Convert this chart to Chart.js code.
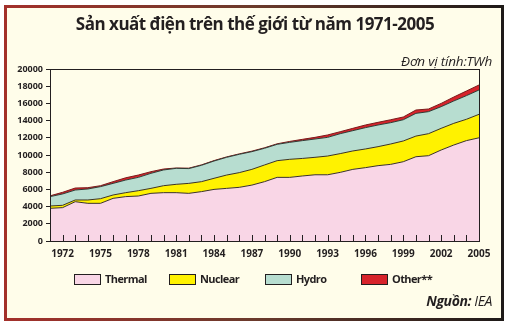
<!DOCTYPE html>
<html>
<head>
<meta charset="utf-8">
<script src="https://cdn.jsdelivr.net/npm/chart.js@4/dist/chart.umd.min.js"></script>
<style>
  html, body { margin: 0; padding: 0; background: #ffffff; }
  #wrap { position: relative; width: 506px; height: 326px; overflow: hidden; background: #ffffff; }
  #panel { position: absolute; left: 4px; top: 5px; width: 494px; height: 310px; background: #fffdea;
           border: 3px solid; border-image: linear-gradient(90deg, #a3302b, #6b3a2c 50%, #1e1a18) 1; }
  #c { position: absolute; left: 0; top: 0; }
  .t { position: absolute; white-space: nowrap; color: #231f20; font-family: "Open Sans", "Noto Sans", sans-serif; }
  #title { left: 0; width: 506px; text-align: center; top: 12px; font-size: 17px; font-weight: 700; letter-spacing: -0.5px; padding-left: 4px; box-sizing: border-box; }
  #unit { right: 14px; top: 52px; font-size: 13.5px; font-style: italic; letter-spacing: -0.2px; }
  #src { right: 14px; top: 291px; font-size: 14px; font-style: italic; letter-spacing: -0.4px; }
  .lg { position: absolute; top: 274px; height: 9px; width: 25px; border: 1px solid #231f20; }
  .lt { position: absolute; top: 271px; font-size: 11px; font-weight: 700; font-family: "Open Sans", "Noto Sans", sans-serif; color: #231f20; letter-spacing: -0.6px; }
</style>
</head>
<body>
<div id="wrap">
  <div id="panel"></div>
  <canvas id="c" width="506" height="326"></canvas>
  <div class="t" id="title">Sản xuất điện trên thế giới từ năm 1971-2005</div>
  <div class="t" id="unit">Đơn vị tính:TWh</div>
  <div class="t" id="src"><b>Nguồn:</b> IEA</div>
  <div id="legend"></div>
</div>
<script>
const years = [1971,1972,1973,1974,1975,1976,1977,1978,1979,1980,1981,1982,1983,1984,1985,1986,1987,1988,1989,1990,1991,1992,1993,1994,1995,1996,1997,1998,1999,2000,2001,2002,2003,2004,2005];
const thermal = [3800,3880,4570,4380,4380,4960,5160,5230,5540,5620,5620,5540,5740,6000,6120,6240,6500,6900,7400,7400,7560,7700,7700,7980,8330,8530,8760,8910,9220,9800,9920,10580,11160,11670,12000];
const nuclear = [270,270,200,390,540,390,460,620,580,810,970,1160,1160,1290,1550,1710,1830,1940,1940,2100,2040,2030,2180,2180,2140,2170,2210,2370,2410,2400,2560,2520,2520,2480,2730];
const hydro = [1090,1320,1160,1280,1400,1350,1470,1550,1750,1830,1860,1720,1900,2010,2060,2130,2060,1940,1900,1970,2070,2130,2170,2320,2360,2480,2520,2480,2470,2640,2560,2520,2600,2750,2830];
const other = [90,190,230,150,110,200,260,270,190,110,40,50,50,50,50,50,60,60,60,110,150,190,280,230,270,310,310,340,320,390,310,380,460,540,580];
const seriesNames = ["Thermal","Nuclear","Hydro","Other**"];
const yMax = 20000, yStep = 2000;
const labelEvery = 3, firstLabelYear = 1972;

const fills = ["#f9d6e6","#fff200","#b7ddd0","#d7232b"];
const lines = ["#3b3326","#3b3326","#2f3a33","#7a1c1c"];
const values = [thermal, nuclear, hydro, other];

// legend (HTML)
const legendX = [74,169,265,361];
const lg = document.getElementById('legend');
seriesNames.forEach((n,i)=>{
  const b = document.createElement('div'); b.className='lg';
  b.style.left = legendX[i]+'px'; b.style.background = fills[i]; lg.appendChild(b);
  const t = document.createElement('div'); t.className='lt';
  t.style.left = (legendX[i]+31)+'px'; t.textContent = n; lg.appendChild(t);
});

const framePlugin = {
  id: 'frame',
  afterDatasetsDraw(chart) {
    const {ctx, chartArea: a, scales: {x}} = chart;
    ctx.save();
    ctx.strokeStyle = '#231f20';
    ctx.lineWidth = 1;
    ctx.strokeRect(Math.round(a.left)+0.5, Math.round(a.top)+0.5, Math.round(a.right-a.left), Math.round(a.bottom-a.top));
    ctx.beginPath();
    for (let i = 1; i < years.length; i++) {
      const px = Math.round(x.getPixelForValue(i)) + 0.5;
      ctx.moveTo(px, a.bottom);
      ctx.lineTo(px, a.bottom - 6);
    }
    ctx.stroke();
    ctx.restore();
  }
};

new Chart(document.getElementById('c'), {
  type: 'line',
  data: {
    labels: years.map(String),
    datasets: seriesNames.map((n,i)=>({
      label: n,
      data: values[i],
      backgroundColor: fills[i],
      borderColor: lines[i],
      borderWidth: 1,
      fill: i === 0 ? 'origin' : '-1',
      pointRadius: 0,
      tension: 0
    }))
  },
  options: {
    responsive: false,
    animation: false,
    layout: { padding: { left: 0, right: 27, top: 69, bottom: 65 } },
    plugins: { legend: { display: false }, tooltip: { enabled: false }, title: { display: false } },
    scales: {
      x: {
        offset: false,
        grid: { display: false, drawTicks: false },
        border: { display: true, color: '#231f20' },
        ticks: {
          autoSkip: false, maxRotation: 0, padding: 7,
          color: '#231f20',
          font: { family: '"Open Sans", "Noto Sans", sans-serif', size: 10, weight: 'bold' },
          callback: function(v) { const y = +this.getLabelForValue(v); return ((y - firstLabelYear) % labelEvery === 0) ? String(y) : ''; }
        },
        afterFit(s) { s.height = 20; }
      },
      y: {
        stacked: true,
        min: 0, max: yMax,
        grid: { drawOnChartArea: false, drawTicks: true, tickLength: 4, color: '#231f20' },
        border: { display: true, color: '#231f20' },
        ticks: {
          stepSize: yStep, padding: 3, color: '#231f20',
          font: { family: '"Open Sans", "Noto Sans", sans-serif', size: 9, weight: 'bold' },
          callback: (v) => String(v)
        },
        afterFit(s) { s.width = 50; }
      }
    }
  },
  plugins: [framePlugin]
});
</script>
</body>
</html>
